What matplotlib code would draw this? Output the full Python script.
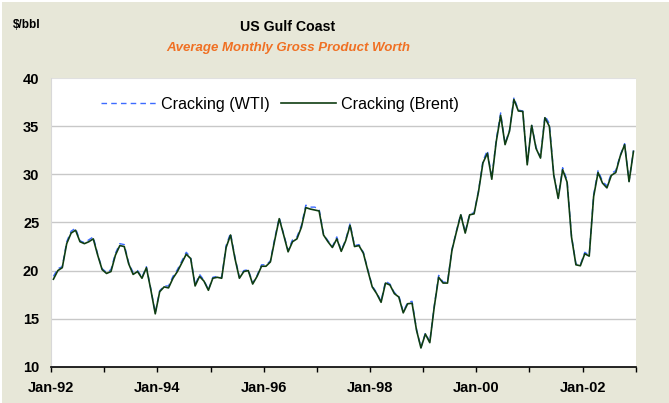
import matplotlib
matplotlib.use("Agg")
import matplotlib.pyplot as plt
from matplotlib.patches import Rectangle

# ---- data (monthly, Jan-92 .. Dec-02) ----
brent = [19.1, 20.0, 20.3, 22.8, 23.9, 24.2, 23.0, 22.8, 23.0, 23.3, 21.6, 20.1,
         19.7, 19.9, 21.6, 22.6, 22.5, 20.7, 19.6, 19.9, 19.2, 20.3, 18.0, 15.5,
         17.8, 18.3, 18.2, 19.2, 19.9, 20.8, 21.7, 21.25, 18.4, 19.4, 18.9, 17.95,
         19.2, 19.3, 19.2, 22.4, 23.7, 21.25, 19.2, 19.9, 20.0, 18.6, 19.4, 20.45,
         20.45, 20.9, 23.2, 25.4, 23.7, 21.95, 23.0, 23.3, 24.5, 26.55, 26.4, 26.3,
         26.2, 23.7, 23.0, 22.4, 23.3, 22.0, 23.1, 24.7, 22.5, 22.6, 21.8, 20.0,
         18.3, 17.6, 16.7, 18.7, 18.5, 17.6, 17.25, 15.6, 16.55, 16.6, 13.8, 11.95,
         13.4, 12.5, 16.2, 19.3, 18.7, 18.7, 22.1, 24.0, 25.8, 23.9, 25.8, 25.9,
         28.2, 31.2, 32.2, 29.5, 33.4, 36.15, 33.1, 34.5, 37.8, 36.6, 36.55, 31.0,
         35.1, 32.7, 31.7, 35.9, 35.0, 29.9, 27.5, 30.5, 29.2, 23.5, 20.6, 20.5,
         21.75, 21.5, 27.7, 30.2, 29.1, 28.6, 29.9, 30.2, 31.9, 33.1, 29.25, 32.4]

wti = [19.4, 20.2, 20.4, 23.0, 24.1, 24.4, 23.1, 22.9, 23.2, 23.5, 21.7, 20.2,
       19.8, 20.1, 21.8, 22.8, 22.7, 20.8, 19.8, 20.0, 19.3, 20.4, 18.1, 15.6,
       17.9, 18.4, 18.4, 19.4, 20.1, 21.0, 21.9, 21.4, 18.5, 19.6, 19.0, 18.0,
       19.3, 19.4, 19.3, 22.6, 23.9, 21.4, 19.3, 20.0, 20.1, 18.7, 19.5, 20.6,
       20.6, 21.0, 23.4, 25.5, 23.8, 22.1, 23.2, 23.5, 24.7, 26.8, 26.6, 26.6,
       26.4, 23.8, 23.1, 22.5, 23.5, 22.1, 23.2, 24.9, 22.6, 22.7, 21.9, 20.1,
       18.4, 17.7, 16.8, 18.9, 18.6, 17.7, 17.4, 15.7, 16.7, 16.8, 13.9, 12.0,
       13.5, 12.6, 16.3, 19.5, 18.8, 18.8, 22.2, 24.1, 25.9, 24.0, 25.9, 26.0,
       28.3, 31.4, 32.5, 29.6, 33.6, 36.4, 33.2, 34.6, 38.0, 36.7, 36.6, 31.1,
       35.2, 32.8, 31.8, 36.1, 35.3, 30.0, 27.6, 30.7, 29.4, 23.6, 20.7, 20.6,
       21.9, 21.6, 27.9, 30.4, 29.3, 28.8, 30.1, 30.4, 32.0, 33.2, 29.3, 32.5]

x_labels = ["Jan-92", "Jan-94", "Jan-96", "Jan-98", "Jan-00", "Jan-02"]
y_ticks = [10, 15, 20, 25, 30, 35, 40]
series_names = ["Cracking (WTI)", "Cracking (Brent)"]

W, H = 669, 403
fig = plt.figure(figsize=(W / 100, H / 100), dpi=100)
fig.patch.set_facecolor("white")
bg = "#E7E7D8"
fig.patches.append(Rectangle((2 / W, 0), 1, 1 - 2 / H,
                             transform=fig.transFigure, facecolor=bg,
                             edgecolor="none", zorder=-10))

left, right, top, bottom = 51.2, 635.7, 78.3, 366.7
ax = fig.add_axes([left / W, 1 - bottom / H, (right - left) / W, (bottom - top) / H])
ax.set_facecolor("white")

n = len(brent)
xs = [i + 0.5 for i in range(n)]

ax.plot(xs, wti, color="#3D6BFF", lw=1.0, dashes=(4, 3), label=series_names[0], zorder=3)
ax.plot(xs, brent, color="#0F3D12", lw=1.2, label=series_names[1], zorder=4)

ax.set_xlim(0, 132)
ax.set_ylim(10, 40)

font = "Liberation Sans"

ax.set_yticks(y_ticks)
ax.set_yticklabels([str(v) for v in y_ticks], fontfamily=font, fontweight="bold", fontsize=10.5)
ax.tick_params(axis="y", length=0, pad=8.6)

major = list(range(0, 133, 12))
ax.set_xticks(major)
lbls = []
for k, m in enumerate(major):
    lbls.append(x_labels[k // 2] if (k % 2 == 0 and k // 2 < len(x_labels)) else "")
ax.set_xticklabels(lbls, fontfamily=font, fontweight="bold", fontsize=10.5)
ax.tick_params(axis="x", direction="out", length=3.6, width=1, color="black", pad=7)

for v in [15, 20, 25, 30, 35]:
    ax.axhline(v, color="#C8C8C8", lw=1.0, zorder=1)

for s in ["top", "right"]:
    ax.spines[s].set_visible(False)
ax.spines["left"].set_color("#D8D8D8")
ax.spines["left"].set_linewidth(0.8)
ax.spines["bottom"].set_color("black")
ax.spines["bottom"].set_linewidth(1.2)
ax.axhline(40, color="#E0E0E0", lw=0.8, zorder=1)

leg = fig.legend(loc="center left", bbox_to_anchor=(101 / W, 1 - 104 / H),
                 ncol=2, frameon=False, borderpad=0, borderaxespad=0,
                 handlelength=3.4, handletextpad=0.3, columnspacing=0.75,
                 prop={"family": font, "size": 11.6})

fig.text(288 / W, 1 - 27 / H, "US Gulf Coast", ha="center", va="center",
         fontfamily=font, fontweight="bold", fontsize=10.2, color="black")
fig.text(288 / W, 1 - 47.5 / H, "Average Monthly Gross Product Worth", ha="center",
         va="center", fontfamily=font, fontweight="bold", fontstyle="italic",
         fontsize=9.5, color="#F07023")
fig.text(13 / W, 1 - 25 / H, "$/bbl", ha="left", va="center",
         fontfamily=font, fontweight="bold", fontsize=8.5, color="black")

fig.savefig("out.png", dpi=100, facecolor=fig.get_facecolor())
